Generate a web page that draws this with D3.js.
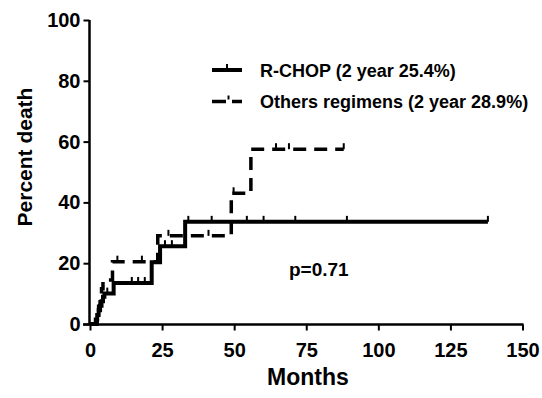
<!DOCTYPE html>
<html>
<head>
<meta charset="utf-8">
<script src="https://cdn.jsdelivr.net/npm/d3@7"></script>
<style>
  body { margin: 0; background: #fff; }
  svg text { font-family: "Liberation Sans", Arial, sans-serif; font-weight: bold; fill: #000; }
</style>
</head>
<body>
<div class="chart"></div>
<script>
// step data: [month, percent death]
var rchopSteps = [[0,0],[2,1.5],[2.5,3],[3,4.5],[3.5,6],[4,7.5],[4.5,9],[5,10],[8.2,13.5],[21.4,20.3],[24.3,25.6],[33,33.6]];
var rchopEnd = 138;
var rchopCensor = [6, 14.5, 16.7, 19, 26, 28.4, 34.1, 42.2, 54.4, 60.2, 71.2, 89.1, 138];

var otherSteps = [[0,0],[2.5,2.9],[3,5.8],[3.5,8.7],[4,11.6],[4.5,14.5],[7.8,20.5],[23.5,29],[49,43],[55.8,57.5]];
var otherEnd = 88;
var otherCensor = [9.5, 18, 27.2, 41.1, 49.8, 64.5, 69, 88];

var xTicks = [0, 25, 50, 75, 100, 125, 150];
var yTicks = [0, 20, 40, 60, 80, 100];

var legendLabels = ["R-CHOP (2 year 25.4%)", "Others regimens (2 year 28.9%)"];
var pText = "p=0.71";

var svgWidth = 542, svgHeight = 398;

var svg = d3.select(".chart")
    .append("svg")
    .attr("width", svgWidth)
    .attr("height", svgHeight);

var x = d3.scaleLinear().domain([0, 150]).range([90, 522.5]);
var y = d3.scaleLinear().domain([0, 100]).range([324, 20]);

// axes
var xAxis = d3.axisBottom(x).tickValues(xTicks).tickSize(6).tickPadding(12);
var yAxis = d3.axisLeft(y).tickValues(yTicks).tickSize(6).tickPadding(3);

var gx = svg.append("g")
    .attr("transform", "translate(0,324.5)")
    .call(xAxis);
var gy = svg.append("g")
    .attr("transform", "translate(89.5,0)")
    .call(yAxis);

[gx, gy].forEach(function (g) {
    g.select(".domain").remove();
    g.selectAll("line").attr("stroke", "#000").attr("stroke-width", 2);
    g.selectAll("text").style("font-size", "20px");
});
gx.append("line").attr("x1", 83).attr("x2", x(150) + 1).attr("stroke", "#000").attr("stroke-width", 2.5);
gx.selectAll(".tick text").attr("dy", "0.71em");
gy.append("line").attr("y1", y(100)).attr("y2", y(0) + 1).attr("stroke", "#000").attr("stroke-width", 2.5);

// axis titles
svg.append("text")
    .attr("x", 308)
    .attr("y", 385)
    .attr("text-anchor", "middle")
    .style("font-size", "23px")
    .text("Months");

svg.append("text")
    .attr("transform", "translate(32,157) rotate(-90)")
    .attr("text-anchor", "middle")
    .style("font-size", "21px")
    .text("Percent death");

// curves
var line = d3.line()
    .x(d => x(d[0]))
    .y(d => y(d[1]))
    .curve(d3.curveStepAfter);

function levelAt(steps, t) {
    var v = 0;
    steps.forEach(function (s) { if (s[0] <= t) v = s[1]; });
    return v;
}

function drawCurve(steps, end, censor, dash, width) {
    var pts = steps.concat([[end, steps[steps.length - 1][1]]]);
    svg.append("path")
        .datum(pts)
        .attr("d", line)
        .attr("fill", "none")
        .attr("stroke", "#000")
        .attr("stroke-width", width)
        .attr("stroke-dasharray", dash);
    svg.selectAll(null)
        .data(censor)
        .enter()
        .append("line")
        .attr("x1", d => x(d))
        .attr("x2", d => x(d))
        .attr("y1", d => y(levelAt(steps, d)))
        .attr("y2", d => y(levelAt(steps, d)) - 6)
        .attr("stroke", "#000")
        .attr("stroke-width", 2);
}

drawCurve(rchopSteps, rchopEnd, rchopCensor, null, 4);
drawCurve(otherSteps, otherEnd, otherCensor, "13,8", 3.5);

// legend
var legend = svg.append("g");
var rows = [70, 101.5];
legend.append("line")
    .attr("x1", 212).attr("x2", 242).attr("y1", rows[0]).attr("y2", rows[0])
    .attr("stroke", "#000").attr("stroke-width", 4);
legend.append("line")
    .attr("x1", 227).attr("x2", 227).attr("y1", rows[0]).attr("y2", rows[0] - 6)
    .attr("stroke", "#000").attr("stroke-width", 2);
legend.append("line")
    .attr("x1", 212).attr("x2", 242).attr("y1", rows[1]).attr("y2", rows[1])
    .attr("stroke", "#000").attr("stroke-width", 3.5)
    .attr("stroke-dasharray", "14,6,10");
legend.append("line")
    .attr("x1", 228.5).attr("x2", 228.5).attr("y1", rows[1] - 2).attr("y2", rows[1] - 6)
    .attr("stroke", "#000").attr("stroke-width", 2);

legend.selectAll("text")
    .data(legendLabels)
    .enter()
    .append("text")
    .attr("x", 260)
    .attr("y", (d, i) => rows[i] + 6.5)
    .style("font-size", "18px")
    .text(d => d);

svg.append("text")
    .attr("x", 289)
    .attr("y", 276)
    .style("font-size", "19px")
    .text(pText);
</script>
</body>
</html>
